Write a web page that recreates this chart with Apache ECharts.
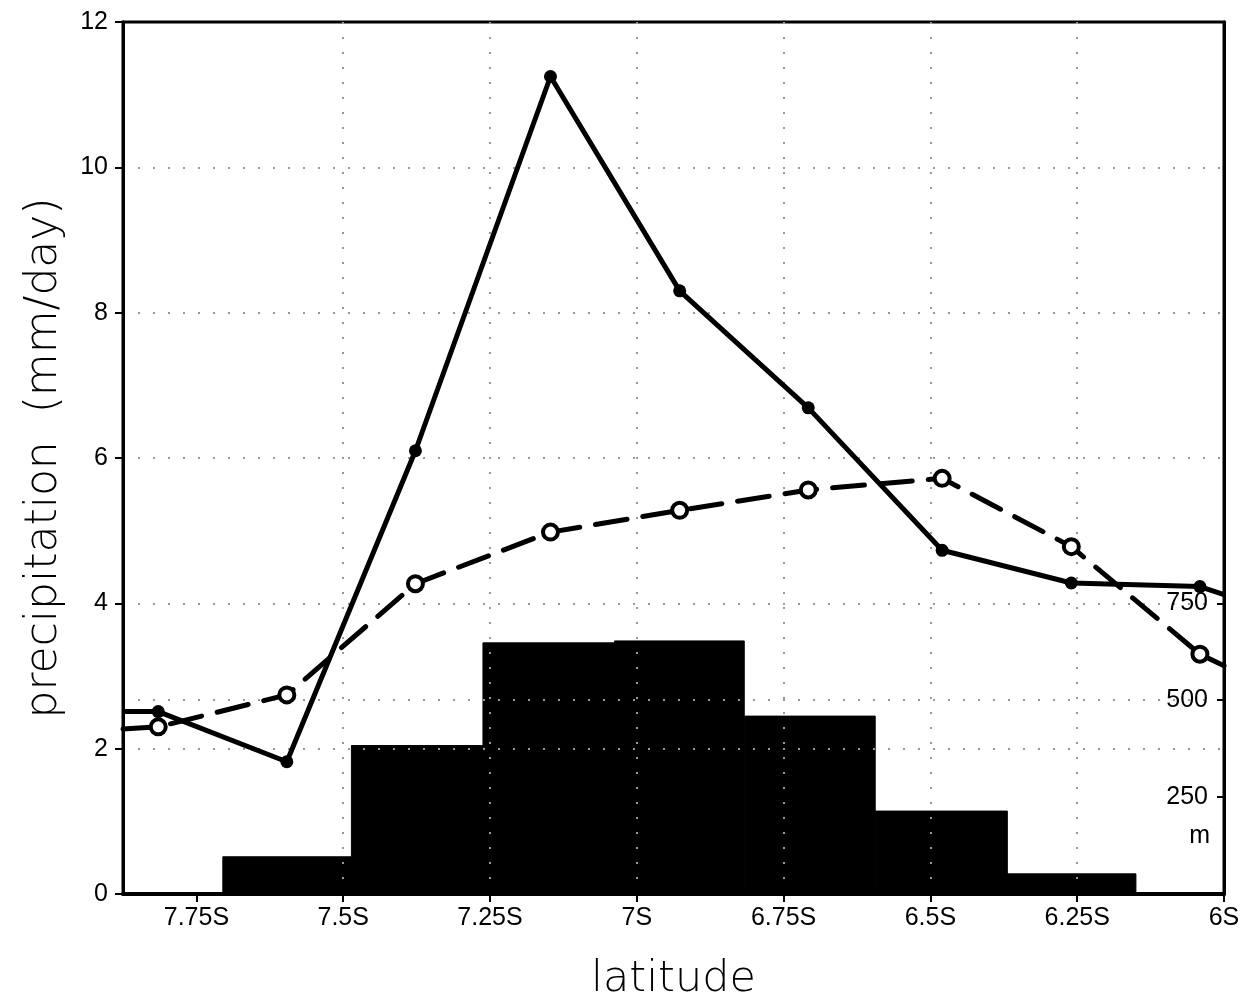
<!DOCTYPE html>
<html>
<head>
<meta charset="utf-8">
<script src="https://cdn.jsdelivr.net/npm/echarts@6/dist/echarts.min.js"></script>
<style>
  html, body { margin: 0; background: #fff; }
  #chart { width: 1243px; height: 1001px; }
</style>
</head>
<body>
<div id="chart"></div>
<script>
// latitude of each sample (negative = south)
const lats = [-7.815, -7.596, -7.377, -7.147, -6.927, -6.708, -6.480, -6.260, -6.041]
const precipSolid = [2.51, 1.82, 6.10, 11.25, 8.30, 6.69, 4.73, 4.28, 4.23]
const precipDashed = [2.30, 2.74, 4.27, 4.98, 5.28, 5.56, 5.72, 4.78, 3.30]
// where the two lines meet the left / right frame
const edgeLats = [-7.875, -6.0]
const edgeSolid = [2.51, 4.12]
const edgeDashed = [2.27, 3.14]
// topography histogram: step edges (latitude) and heights (m)
const barEdges = [-7.705, -7.486, -7.262, -7.038, -6.817, -6.594, -6.369, -6.150]
const barHeights = [96, 383, 648, 653, 459, 214, 52]
// tick labels
const latTicks = [-7.75, -7.5, -7.25, -7, -6.75, -6.5, -6.25, -6]
const heightTicks = [250, 500, 750]

const FONT = "'Liberation Sans', 'DejaVu Sans', sans-serif"
const dotted = { color: '#999', width: 2, type: [2, 13] }

function lineData(vals, edges) {
  const pts = lats.map((x, i) => [x, vals[i]])
  return [{ value: [edgeLats[0], edges[0]], symbol: 'none' }]
    .concat(pts)
    .concat([{ value: [edgeLats[1], edges[1]], symbol: 'none' }])
}

const barData = barHeights.map((h, i) => [barEdges[i], barEdges[i + 1], h])

const option = {
  backgroundColor: '#fff',
  animation: false,
  grid: {
    left: 123, right: 19, top: 22, bottom: 107,
    outerBoundsMode: 'none',
    show: true, borderColor: '#000', borderWidth: 3
  },
  xAxis: {
    type: 'value',
    min: -7.875,
    max: -6,
    z: 5,
    name: 'latitude',
    nameLocation: 'middle',
    nameGap: 64,
    nameTextStyle: { fontFamily: "'DejaVu Sans', sans-serif", fontSize: 43, fontWeight: 200, color: '#000' },
    axisLine: { show: true, lineStyle: { color: '#000', width: 4 } },
    axisTick: { show: true, customValues: latTicks, length: 8, lineStyle: { color: '#000', width: 2 } },
    axisLabel: {
      customValues: latTicks,
      margin: 12,
      fontFamily: FONT, fontSize: 25, color: '#000',
      formatter: v => (-v) + 'S'
    },
    splitLine: { show: true, lineStyle: dotted, showMinLine: false, showMaxLine: false }
  },
  yAxis: [
    {
      type: 'value',
      min: 0, max: 12, interval: 2,
      z: 5,
      name: 'precipitation  (mm/day)',
      nameLocation: 'middle',
      nameGap: 56,
      nameTextStyle: { fontFamily: "'DejaVu Sans', sans-serif", fontSize: 44, fontWeight: 200, color: '#000' },
      axisLine: { show: true, lineStyle: { color: '#000', width: 3 } },
      axisTick: { show: true, length: 8, lineStyle: { color: '#000', width: 2 } },
      axisLabel: { margin: 15, fontFamily: FONT, fontSize: 25, color: '#000' },
      splitLine: { show: true, lineStyle: dotted, showMinLine: false, showMaxLine: false }
    },
    {
      type: 'value',
      position: 'right',
      min: 0, max: 2250,
      z: 5,
      axisLine: { show: true, lineStyle: { color: '#000', width: 3 } },
      axisTick: { show: true, inside: true, customValues: heightTicks, length: 7, lineStyle: { color: '#000', width: 2 } },
      axisLabel: { inside: true, customValues: heightTicks, margin: 16, fontFamily: FONT, fontSize: 25, color: '#000' },
      splitLine: { show: true, lineStyle: dotted, showMinLine: false, showMaxLine: false }
    }
  ],
  graphic: [
    {
      type: 'text', right: 33, top: 824, z: 10,
      style: { text: 'm', fontFamily: FONT, fontSize: 25, fill: '#000' }
    }
  ],
  series: [
    {
      type: 'custom',
      yAxisIndex: 1,
      z: 1,
      encode: { x: [0, 1], y: 2 },
      data: barData,
      renderItem(params, api) {
        const p0 = api.coord([api.value(0), api.value(2)])
        const p1 = api.coord([api.value(1), 0])
        return {
          type: 'rect',
          shape: { x: p0[0], y: p0[1], width: p1[0] - p0[0], height: p1[1] - p0[1] },
          style: { fill: '#000', stroke: '#000', lineWidth: 1 }
        }
      }
    },
    {
      type: 'line',
      z: 10,
      data: lineData(precipDashed, edgeDashed),
      symbol: 'circle',
      symbolSize: 15,
      lineStyle: { color: '#000', width: 5, type: [32, 16], cap: 'round' },
      itemStyle: { color: '#fff', borderColor: '#000', borderWidth: 4 }
    },
    {
      type: 'line',
      z: 11,
      data: lineData(precipSolid, edgeSolid),
      symbol: 'circle',
      symbolSize: 13,
      lineStyle: { color: '#000', width: 5 },
      itemStyle: { color: '#000' }
    }
  ]
}

const myChart = echarts.init(document.getElementById('chart'))
myChart.setOption(option)
</script>
</body>
</html>
